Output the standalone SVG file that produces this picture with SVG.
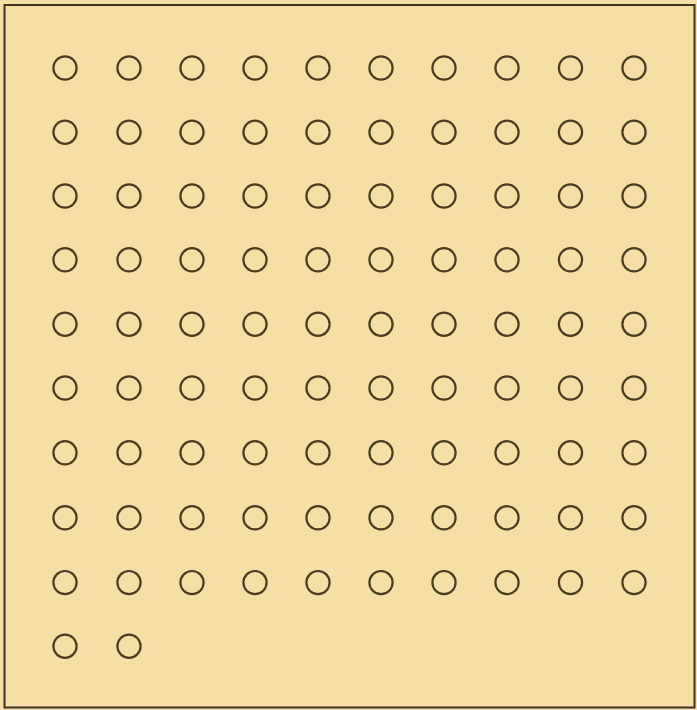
<svg xmlns="http://www.w3.org/2000/svg" width="697" height="710" viewBox="0 0 697 710">
  <style>
    .bg { fill: #f6dfa6; }
    .frame { fill: none; stroke: #3d3320; stroke-width: 2; }
    .dot { fill: none; stroke: #4a3d22; stroke-width: 2.2; }
  </style>
  <defs>
    <circle id="c" r="11.6" class="dot"/>
  </defs>
  <rect class="bg" x="0" y="0" width="697" height="710"/>
  <rect class="frame" x="4.5" y="5" width="690" height="702.5"/>
  <g id="circles">
    <g id="row1"><use href="#c" x="65" y="68"/><use href="#c" x="129" y="68"/><use href="#c" x="192" y="68"/><use href="#c" x="255" y="68"/><use href="#c" x="318" y="68"/><use href="#c" x="381" y="68"/><use href="#c" x="444" y="68"/><use href="#c" x="507" y="68"/><use href="#c" x="570.5" y="68"/><use href="#c" x="634" y="68"/></g>
    <g id="row2"><use href="#c" x="65" y="132.2"/><use href="#c" x="129" y="132.2"/><use href="#c" x="192" y="132.2"/><use href="#c" x="255" y="132.2"/><use href="#c" x="318" y="132.2"/><use href="#c" x="381" y="132.2"/><use href="#c" x="444" y="132.2"/><use href="#c" x="507" y="132.2"/><use href="#c" x="570.5" y="132.2"/><use href="#c" x="634" y="132.2"/></g>
    <g id="row3"><use href="#c" x="65" y="196"/><use href="#c" x="129" y="196"/><use href="#c" x="192" y="196"/><use href="#c" x="255" y="196"/><use href="#c" x="318" y="196"/><use href="#c" x="381" y="196"/><use href="#c" x="444" y="196"/><use href="#c" x="507" y="196"/><use href="#c" x="570.5" y="196"/><use href="#c" x="634" y="196"/></g>
    <g id="row4"><use href="#c" x="65" y="259.8"/><use href="#c" x="129" y="259.8"/><use href="#c" x="192" y="259.8"/><use href="#c" x="255" y="259.8"/><use href="#c" x="318" y="259.8"/><use href="#c" x="381" y="259.8"/><use href="#c" x="444" y="259.8"/><use href="#c" x="507" y="259.8"/><use href="#c" x="570.5" y="259.8"/><use href="#c" x="634" y="259.8"/></g>
    <g id="row5"><use href="#c" x="65" y="324.2"/><use href="#c" x="129" y="324.2"/><use href="#c" x="192" y="324.2"/><use href="#c" x="255" y="324.2"/><use href="#c" x="318" y="324.2"/><use href="#c" x="381" y="324.2"/><use href="#c" x="444" y="324.2"/><use href="#c" x="507" y="324.2"/><use href="#c" x="570.5" y="324.2"/><use href="#c" x="634" y="324.2"/></g>
    <g id="row6"><use href="#c" x="65" y="388"/><use href="#c" x="129" y="388"/><use href="#c" x="192" y="388"/><use href="#c" x="255" y="388"/><use href="#c" x="318" y="388"/><use href="#c" x="381" y="388"/><use href="#c" x="444" y="388"/><use href="#c" x="507" y="388"/><use href="#c" x="570.5" y="388"/><use href="#c" x="634" y="388"/></g>
    <g id="row7"><use href="#c" x="65" y="452.8"/><use href="#c" x="129" y="452.8"/><use href="#c" x="192" y="452.8"/><use href="#c" x="255" y="452.8"/><use href="#c" x="318" y="452.8"/><use href="#c" x="381" y="452.8"/><use href="#c" x="444" y="452.8"/><use href="#c" x="507" y="452.8"/><use href="#c" x="570.5" y="452.8"/><use href="#c" x="634" y="452.8"/></g>
    <g id="row8"><use href="#c" x="65" y="517.8"/><use href="#c" x="129" y="517.8"/><use href="#c" x="192" y="517.8"/><use href="#c" x="255" y="517.8"/><use href="#c" x="318" y="517.8"/><use href="#c" x="381" y="517.8"/><use href="#c" x="444" y="517.8"/><use href="#c" x="507" y="517.8"/><use href="#c" x="570.5" y="517.8"/><use href="#c" x="634" y="517.8"/></g>
    <g id="row9"><use href="#c" x="65" y="582.6"/><use href="#c" x="129" y="582.6"/><use href="#c" x="192" y="582.6"/><use href="#c" x="255" y="582.6"/><use href="#c" x="318" y="582.6"/><use href="#c" x="381" y="582.6"/><use href="#c" x="444" y="582.6"/><use href="#c" x="507" y="582.6"/><use href="#c" x="570.5" y="582.6"/><use href="#c" x="634" y="582.6"/></g>
    <g id="row10"><use href="#c" x="65" y="646.2"/><use href="#c" x="129" y="646.2"/></g>
  </g>
</svg>
